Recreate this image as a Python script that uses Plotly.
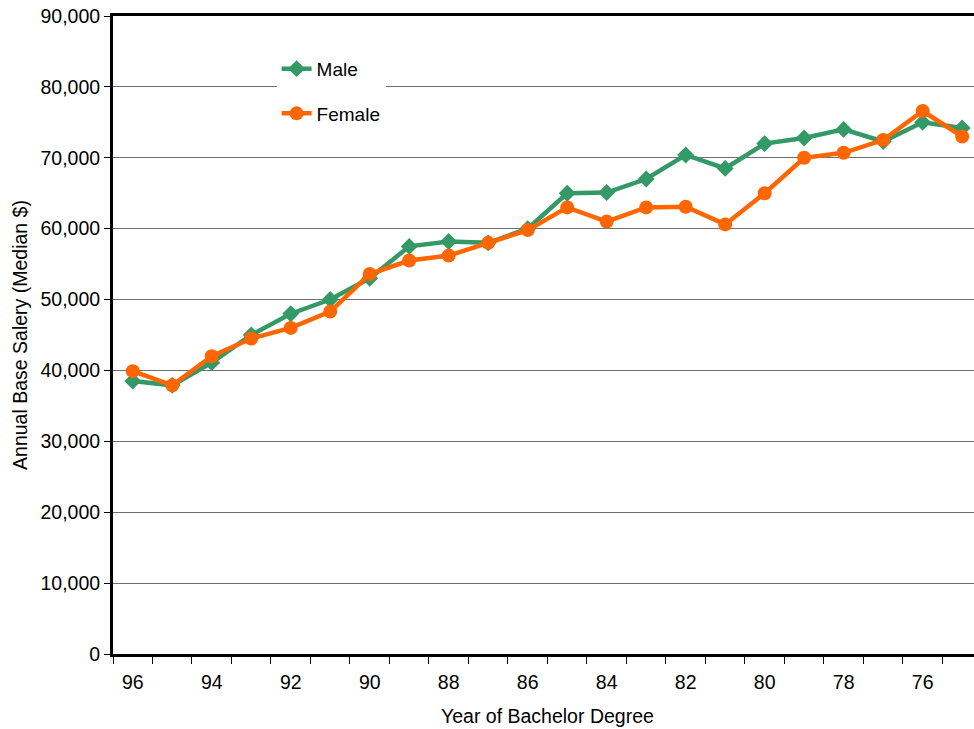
import plotly.graph_objects as go

# Graduation year (two-digit), most recent first
years = [96, 95, 94, 93, 92, 91, 90, 89, 88, 87, 86, 85, 84, 83, 82, 81, 80, 79, 78, 77, 76, 75]

# Median annual base salary by year of bachelor degree
male = [38500, 37900, 41100, 45000, 48000, 50000, 53000, 57500, 58200, 58000, 60000,
        65000, 65100, 67000, 70400, 68500, 72000, 72800, 74000, 72300, 75000, 74200]
female = [39900, 37900, 42000, 44500, 46000, 48300, 53600, 55500, 56200, 58000, 59800,
          63000, 61000, 63000, 63100, 60600, 65000, 70000, 70700, 72500, 76600, 73000]

x_labels = [96, 94, 92, 90, 88, 86, 84, 82, 80, 78, 76]
y_ticks = [0, 10000, 20000, 30000, 40000, 50000, 60000, 70000, 80000, 90000]

GREEN = "#339966"
ORANGE = "#FF6600"
FONT = "Liberation Sans, Arial, sans-serif"

fig = go.Figure()
fig.add_trace(go.Scatter(
    x=years, y=male, name="Male", mode="lines+markers",
    line=dict(color=GREEN, width=4.5),
    marker=dict(symbol="diamond", size=13, color=GREEN),
    legendgroup="m",
))
fig.add_trace(go.Scatter(
    x=years, y=female, name="Female", mode="lines+markers",
    line=dict(color=ORANGE, width=4.5),
    marker=dict(symbol="circle", size=14, color=ORANGE),
    legendgroup="f",
))

fig.update_layout(
    width=974, height=729,
    margin=dict(l=113, r=0, t=16, b=75),
    paper_bgcolor="white", plot_bgcolor="white",
    font=dict(family=FONT, size=19, color="black"),
    showlegend=True,
    legend=dict(
        x=0.19, y=0.947, xanchor="left", yanchor="top",
        bgcolor="white", borderwidth=0,
        font=dict(size=19),
        tracegroupgap=17,
        itemwidth=30,
    ),
    xaxis=dict(
        range=[96.5, 74.7],
        tickmode="array", tickvals=x_labels, ticktext=[str(v) for v in x_labels],
        ticks="", showgrid=False, zeroline=False,
        showline=True, linecolor="black", linewidth=3, mirror=True,
        ticklabelstandoff=9,
        tickfont=dict(size=19.5),
        minor=dict(
            tickmode="array",
            tickvals=[y + 0.5 for y in years],
            ticks="outside", ticklen=7, tickwidth=1, tickcolor="black",
            showgrid=False,
        ),
    ),
    yaxis=dict(
        range=[0, 90000],
        tickmode="array", tickvals=y_ticks,
        ticktext=[f"{v:,}" for v in y_ticks],
        ticks="outside", ticklen=6, tickcolor="black", tickwidth=1,
        showgrid=True, gridcolor="#6e6e6e", gridwidth=1,
        zeroline=False,
        showline=True, linecolor="black", linewidth=3,
        tickfont=dict(size=19.5),
        title=dict(text="Annual Base Salery (Median $)", font=dict(size=19.5), standoff=8),
    ),
    annotations=[dict(
        text="Year of Bachelor Degree", xref="paper", yref="paper",
        x=0.505, y=-0.097, xanchor="center", yanchor="middle",
        showarrow=False, font=dict(size=19.5),
    )],
)

fig.write_html("out.html")
